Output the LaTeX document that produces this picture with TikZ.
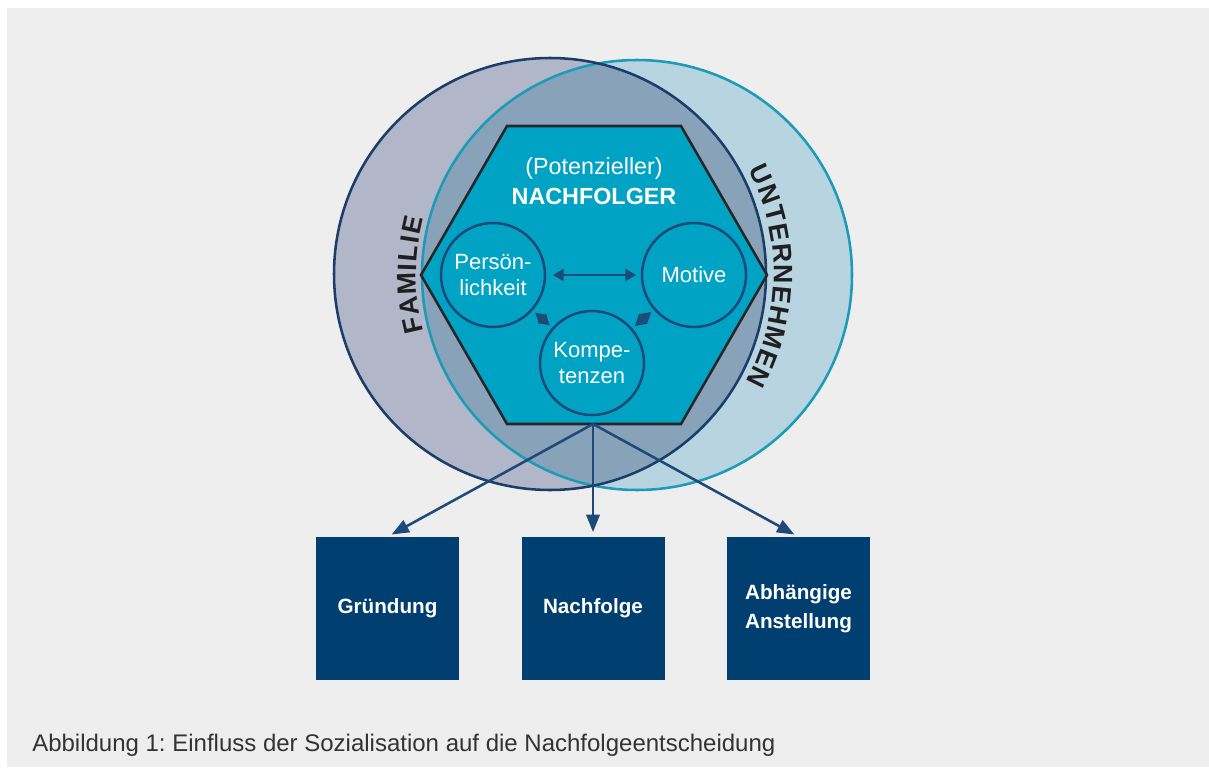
\documentclass[tikz,border=0pt]{standalone}
\usepackage{fontspec}
\setmainfont{Liberation Sans}
\usepackage{xcolor}
\usetikzlibrary{arrows.meta,calc}

\definecolor{bggray}{HTML}{EEEEEE}
\definecolor{famfill}{HTML}{B1B6C8}
\definecolor{famline}{HTML}{1C3D6A}
\definecolor{untfill}{HTML}{B7D4E0}
\definecolor{untline}{HTML}{1B9BB8}
\definecolor{bothfill}{HTML}{88A2BA}
\definecolor{hexfill}{HTML}{00A3C4}
\definecolor{navy}{HTML}{1D4A78}
\definecolor{boxblue}{HTML}{003F6F}

\frenchspacing
\begin{document}
\begin{tikzpicture}[x=0.75pt,y=0.75pt,
    trait/.style={circle, draw=navy, line width=1.9pt, fill=hexfill,
      minimum size=78pt, inner sep=0pt, align=center, text=white,
      font=\fontsize{16.5}{19}\selectfont},
    outcome/.style={rectangle, fill=boxblue, minimum width=107.25pt,
      minimum height=107.25pt, inner sep=0pt, align=center, text=white,
      font=\bfseries\fontsize{15.5}{21.75}\selectfont},
    link/.style={navy, line width=1.5pt,
      {Triangle[length=8pt,width=9pt]}-{Triangle[length=8pt,width=9pt]}},
    lead/.style={navy, line width=1.9pt, -{Triangle[length=13pt,width=10pt]}},
    arcletter/.style={inner sep=0pt, text=black!88,
      font=\bfseries\fontsize{20}{20}\selectfont}
  ]

\useasboundingbox (0,0) rectangle (1209,-767);
\fill[bggray] (7,-8) rectangle (1209,-767);

\coordinate (fam) at (550,-274);
\coordinate (unt) at (637,-275);

% Familie / Unternehmen
\fill[famfill] (fam) circle[radius=216];
\fill[untfill] (unt) circle[radius=215];
\begin{scope}
  \clip (fam) circle[radius=216];
  \fill[bothfill] (unt) circle[radius=215];
\end{scope}
\draw[untline, line width=1.9pt] (unt) circle[radius=215];
\draw[famline, line width=1.9pt] (fam) circle[radius=216];

\foreach \ch/\a in {F/192.7, A/187.8, M/182.3, I/178.2, L/174.7, I/171.2, E/167.5}
  \node[arcletter, rotate=\a-90] at ($(unt)+(\a:230)$) {\ch};

\foreach \ch/\a in {U/25.2, N/20.0, T/15.0, E/10.3, R/5.2, N/-0.1,
                    E/-5.2, H/-10.3, M/-15.9, E/-21.3, N/-26.4}
  \node[arcletter, rotate=\a-90] at ($(fam)+(\a:233)$) {\ch};

% Nachfolger
\draw[fill=hexfill, draw=black!85, line width=1.9pt]
  (421,-275) -- (507,-126) -- (681,-126) -- (767,-275)
  -- (681,-424) -- (507,-424) -- cycle;
\node[text=white, align=center, font=\fontsize{17.5}{22.5}\selectfont] (nf)
  at (594,-181) {(Potenzieller)\\\textbf{NACHFOLGER}};

\node[trait] (pers) at (493,-275) {Persön-\\lichkeit};
\node[trait] (mot) at (694,-275) {Motive};
\node[trait] (komp) at (592,-363) {Kompe-\\tenzen};

\draw[link, shorten <=5pt, shorten >=3.5pt] (pers) -- (mot);
\draw[link, shorten <=2.5pt, shorten >=2.5pt] (pers) -- (komp);
\draw[link, shorten <=2.5pt, shorten >=2.5pt] (mot) -- (komp);

% Wege
\coordinate (src) at (593,-424);
\node[outcome] (gruend) at (387.5,-608.5) {Gründung};
\node[outcome] (nachf) at (593,-608.5) {Nachfolge};
\node[outcome] (anst) at (798.5,-608.5) {Abhängige\\Anstellung};

\draw[lead, shorten >=3.5pt] (src) -- (gruend.north);
\draw[lead, shorten >=3.5pt] (src) -- (nachf.north);
\draw[lead, shorten >=3.5pt] (src) -- (anst.north);

\node[anchor=west, inner sep=0pt, text=black!80, font=\fontsize{18}{20}\selectfont]
  (caption) at (32,-745) {Abbildung 1: Einfluss der Sozialisation auf die Nachfolgeentscheidung};

\end{tikzpicture}
\end{document}
